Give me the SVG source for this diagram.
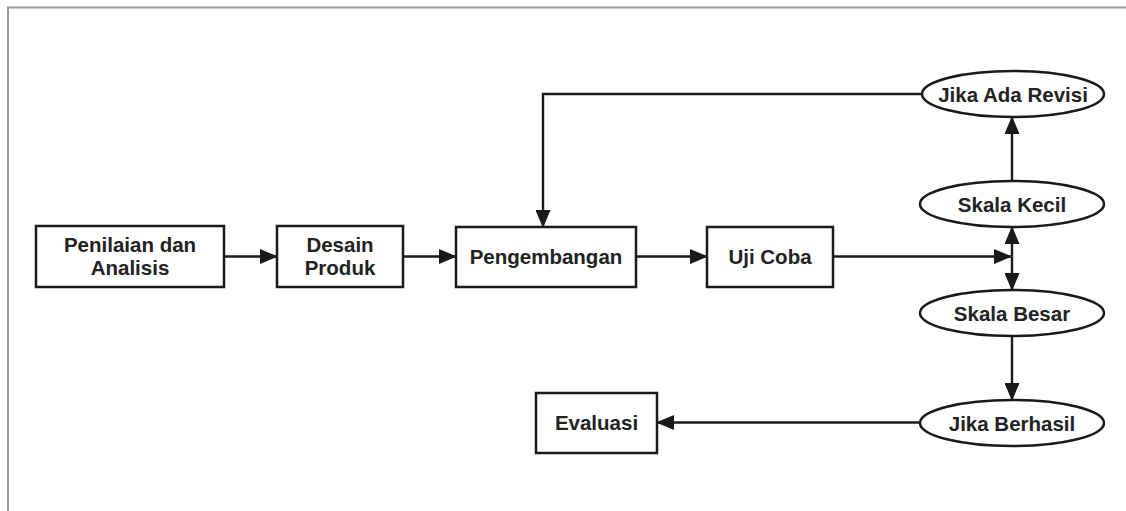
<svg xmlns="http://www.w3.org/2000/svg" width="1126" height="511" viewBox="0 0 1126 511">
<defs>
<marker id="ah" markerWidth="18" markerHeight="15" refX="17" refY="7.5" orient="auto" markerUnits="userSpaceOnUse">
<path d="M0,0 L18,7.5 L0,15 Z" fill="#1a1a1a"/>
</marker>
</defs>
<style>
.box{fill:#fff;stroke:#1a1a1a;stroke-width:2.5}
.ell{fill:#fff;stroke:#1a1a1a;stroke-width:2.5}
.t{font-family:"Liberation Sans",Arial,sans-serif;font-weight:bold;font-size:20.5px;fill:#222;text-anchor:middle}
.c{fill:none;stroke:#1a1a1a;stroke-width:2.4}
</style>
<rect width="1126" height="511" fill="#fff"/>
<path d="M8,511 L8,7.5 L1126,7.5" fill="none" stroke="#999" stroke-width="2"/>
<g id="connectors">
<line class="c" x1="224" y1="256.5" x2="277" y2="256.5" marker-end="url(#ah)"/>
<line class="c" x1="403" y1="256.5" x2="456" y2="256.5" marker-end="url(#ah)"/>
<line class="c" x1="636" y1="256.5" x2="707" y2="256.5" marker-end="url(#ah)"/>
<line class="c" x1="833" y1="256.5" x2="1011" y2="256.5" marker-end="url(#ah)"/>
<line class="c" x1="1012" y1="256.5" x2="1012" y2="227" marker-end="url(#ah)"/>
<line class="c" x1="1012" y1="256.5" x2="1012" y2="290" marker-end="url(#ah)"/>
<line class="c" x1="1012" y1="181" x2="1012" y2="117" marker-end="url(#ah)"/>
<line class="c" x1="1012" y1="336" x2="1012" y2="400" marker-end="url(#ah)"/>
<line class="c" x1="921" y1="422.5" x2="657" y2="422.5" marker-end="url(#ah)"/>
<polyline class="c" points="922,94 543,94 543,227" marker-end="url(#ah)"/>
</g>
<g id="penilaian">
<rect class="box" x="36" y="226" width="188" height="61"/>
<text class="t" x="130" y="251.5">Penilaian dan</text>
<text class="t" x="130" y="275">Analisis</text>
</g>
<g id="desain">
<rect class="box" x="277" y="226" width="126" height="61"/>
<text class="t" x="340" y="251.5">Desain</text>
<text class="t" x="340" y="275">Produk</text>
</g>
<g id="pengembangan">
<rect class="box" x="456" y="227" width="180" height="60"/>
<text class="t" x="546" y="263.5">Pengembangan</text>
</g>
<g id="ujicoba">
<rect class="box" x="707" y="227" width="126" height="60"/>
<text class="t" x="770" y="263.5">Uji Coba</text>
</g>
<g id="jikaadarevisi">
<ellipse class="ell" cx="1013" cy="94" rx="91" ry="23"/>
<text class="t" x="1013" y="101.5">Jika Ada Revisi</text>
</g>
<g id="skalakecil">
<ellipse class="ell" cx="1012" cy="204" rx="92" ry="23"/>
<text class="t" x="1012" y="211.5">Skala Kecil</text>
</g>
<g id="skalabesar">
<ellipse class="ell" cx="1012" cy="313" rx="92" ry="23"/>
<text class="t" x="1012" y="320.5">Skala Besar</text>
</g>
<g id="jikaberhasil">
<ellipse class="ell" cx="1012" cy="423" rx="92" ry="23"/>
<text class="t" x="1012" y="430.5">Jika Berhasil</text>
</g>
<g id="evaluasi">
<rect class="box" x="536" y="393" width="121" height="60"/>
<text class="t" x="596.5" y="430">Evaluasi</text>
</g>
</svg>
